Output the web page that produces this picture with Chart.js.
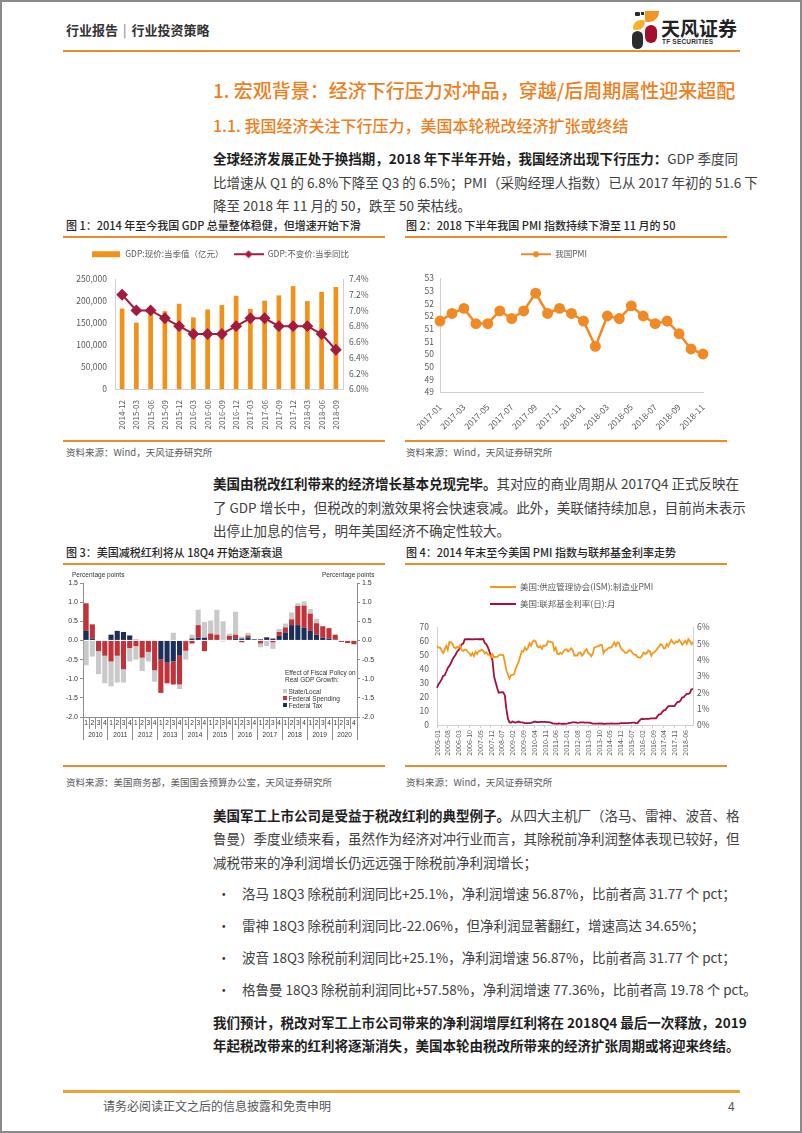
<!DOCTYPE html>
<html><head><meta charset="utf-8">
<script src="https://cdn.jsdelivr.net/npm/chart.js@4.4.1/dist/chart.umd.min.js"></script>
<style>
html,body{margin:0;padding:0;background:#fff;}
#page{position:relative;width:802px;height:1133px;overflow:hidden;font-family:"Noto Sans CJK SC","Noto Sans",sans-serif;color:#3a3a3a;}
#frame{position:absolute;left:0;top:0;width:802px;height:1133px;box-sizing:border-box;border:2px solid #8a8a8a;pointer-events:none;}
.abs{position:absolute;white-space:nowrap;}
.hl{position:absolute;background:#EC8A32;}
.ln{position:absolute;left:213px;width:525px;height:20px;line-height:20px;font-size:13.5px;white-space:nowrap;text-align:justify;text-align-last:justify;color:#404040;}
.ln.last{text-align:left;text-align-last:left;}
.ln b{font-weight:700;color:#1e1e1e;}
.bul{position:absolute;left:217px;font-size:13.5px;line-height:20px;height:20px;white-space:nowrap;color:#404040;}
.bul span{position:absolute;left:25px;}
.ft{position:absolute;font-size:11px;line-height:16px;color:#262626;font-weight:500;white-space:nowrap;}
.src{position:absolute;font-size:9.5px;line-height:14px;color:#5a5a5a;white-space:nowrap;}
.cw{position:absolute;}
.c3t{position:absolute;font-family:"Liberation Sans",Arial,sans-serif;font-size:6.5px;line-height:8px;color:#333;white-space:nowrap;}
.c3t i{display:inline-block;width:4px;height:4px;margin-right:1.5px;vertical-align:middle;position:relative;top:-1px;}
.lg4{position:absolute;font-size:8.5px;line-height:12px;color:#595959;white-space:nowrap;}
.lg4 i{display:inline-block;width:26px;height:2px;margin-right:4px;vertical-align:middle;position:relative;top:-1px;}
</style></head>
<body>
<div id="page">
<div id="frame"></div>

<!-- header -->
<div class="abs" style="left:66px;top:20px;font-size:13px;line-height:20px;font-weight:700;color:#333;">行业报告<span style="font-weight:400;color:#777;margin:0 5px;">|</span>行业投资策略</div>
<div class="abs" style="left:635px;top:12px;width:5px;height:4px;background:#2a2a2a;border-radius:1px;"></div>
<div class="abs" style="left:641px;top:12px;width:3px;height:3px;background:#2a2a2a;"></div>
<div class="abs" style="left:645px;top:11px;width:14px;height:11px;background:#F29422;border-radius:0 0 10px 2px;"></div>
<div class="abs" style="left:633px;top:20px;width:12px;height:10px;background:#F7B32B;border-radius:8px 2px 8px 2px;"></div>
<div class="abs" style="left:632px;top:31px;width:11px;height:18px;background:#2b2b2b;border-radius:6px;"></div>
<div class="abs" style="left:645px;top:25px;width:12px;height:18px;background:#A50D2C;border-radius:6px;"></div>
<div class="abs" style="left:661px;top:16px;font-size:19px;line-height:24px;font-weight:700;color:#222;">天风证券</div>
<div class="abs" style="left:662px;top:38px;font-family:'Liberation Sans',Arial,sans-serif;font-size:6.5px;line-height:8px;font-weight:700;color:#333;letter-spacing:0.2px;">TF SECURITIES</div>
<div class="hl" style="left:63px;top:50px;width:677px;height:2px;"></div>

<!-- headings -->
<div class="abs" style="left:213px;top:77px;font-size:19px;line-height:26px;color:#EE7F1E;font-weight:500;">1. 宏观背景：经济下行压力对冲品，穿越/后周期属性迎来超配</div>
<div class="abs" style="left:213px;top:113px;font-size:16px;line-height:24px;color:#EE7F1E;font-weight:500;">1.1. 我国经济关注下行压力，美国本轮税改经济扩张或终结</div>

<div class="ln" style="top:148px;"><b>全球经济发展正处于换挡期，2018 年下半年开始，我国经济出现下行压力：</b>GDP 季度同</div>
<div class="ln" style="top:172px;">比增速从 Q1 的 6.8%下降至 Q3 的 6.5%；PMI（采购经理人指数）已从 2017 年初的 51.6 下</div>
<div class="ln last" style="top:195px;">降至 2018 年 11 月的 50，跌至 50 荣枯线。</div>

<!-- figure 1/2 titles -->
<div class="ft" style="left:66px;top:217px;">图 1：2014 年至今我国 GDP 总量整体稳健，但增速开始下滑</div>
<div class="ft" style="left:406px;top:217px;">图 2：2018 下半年我国 PMI 指数持续下滑至 11 月的 50</div>
<div class="hl" style="left:63px;top:236px;width:322px;height:1.5px;"></div>
<div class="hl" style="left:405px;top:236px;width:322px;height:1.5px;"></div>
<div class="cw" style="left:63px;top:240px;width:322px;height:198px;"><canvas id="c1"></canvas></div>
<div class="cw" style="left:405px;top:240px;width:322px;height:198px;"><canvas id="c2"></canvas></div>
<div class="hl" style="left:63px;top:440px;width:322px;height:1.5px;"></div>
<div class="hl" style="left:405px;top:440px;width:322px;height:1.5px;"></div>
<div class="src" style="left:66px;top:445px;">资料来源：Wind，天风证券研究所</div>
<div class="src" style="left:406px;top:445px;">资料来源：Wind，天风证券研究所</div>

<div class="ln" style="top:473px;"><b>美国由税改红利带来的经济增长基本兑现完毕。</b>其对应的商业周期从 2017Q4 正式反映在</div>
<div class="ln" style="top:497px;">了 GDP 增长中，但税改的刺激效果将会快速衰减。此外，美联储持续加息，目前尚未表示</div>
<div class="ln last" style="top:520px;">出停止加息的信号，明年美国经济不确定性较大。</div>

<!-- figure 3/4 titles -->
<div class="ft" style="left:66px;top:544px;">图 3：美国减税红利将从 18Q4 开始逐渐衰退</div>
<div class="ft" style="left:406px;top:544px;">图 4：2014 年末至今美国 PMI 指数与联邦基金利率走势</div>
<div class="hl" style="left:63px;top:563px;width:322px;height:1.5px;"></div>
<div class="hl" style="left:405px;top:563px;width:322px;height:1.5px;"></div>
<div class="cw" style="left:63px;top:565px;width:322px;height:197px;"><canvas id="c3"></canvas></div>
<div class="cw" style="left:405px;top:565px;width:322px;height:197px;"><canvas id="c4"></canvas></div>
<div class="hl" style="left:63px;top:765px;width:322px;height:1.5px;"></div>
<div class="hl" style="left:405px;top:765px;width:322px;height:1.5px;"></div>
<div class="src" style="left:66px;top:775px;">资料来源：美国商务部，美国国会预算办公室，天风证券研究所</div>
<div class="src" style="left:406px;top:775px;">资料来源：Wind，天风证券研究所</div>

<!-- chart 3 overlays -->
<div class="c3t" style="left:72px;top:571px;">Percentage points</div>
<div class="c3t" style="left:322px;top:571px;">Percentage points</div>
<div class="c3t" style="left:285px;top:669px;">Effect of Fiscal Policy on</div>
<div class="c3t" style="left:285px;top:676px;">Real GDP Growth:</div>
<div class="c3t" style="left:283px;top:688px;"><i style="background:#C9C9C9"></i>State/Local</div>
<div class="c3t" style="left:283px;top:695px;"><i style="background:#C0333A"></i>Federal Spending</div>
<div class="c3t" style="left:283px;top:702px;"><i style="background:#1B2F5A"></i>Federal Tax</div>

<!-- chart 4 legend -->
<div class="lg4" style="left:490px;top:580px;"><i style="background:#F39A1E"></i>美国:供应管理协会(ISM):制造业PMI</div>
<div class="lg4" style="left:490px;top:597px;"><i style="background:#A50F3A"></i>美国:联邦基金利率(日):月</div>

<div class="ln" style="top:805px;"><b>美国军工上市公司是受益于税改红利的典型例子。</b>从四大主机厂（洛马、雷神、波音、格</div>
<div class="ln" style="top:828px;">鲁曼）季度业绩来看，虽然作为经济对冲行业而言，其除税前净利润整体表现已较好，但</div>
<div class="ln last" style="top:852px;">减税带来的净利润增长仍远远强于除税前净利润增长；</div>

<div class="bul" style="top:883px;">•<span>洛马 18Q3 除税前利润同比+25.1%，净利润增速 56.87%，比前者高 31.77 个 pct；</span></div>
<div class="bul" style="top:915px;">•<span>雷神 18Q3 除税前利润同比-22.06%，但净利润显著翻红，增速高达 34.65%；</span></div>
<div class="bul" style="top:947px;">•<span>波音 18Q3 除税前利润同比+25.1%，净利润增速 56.87%，比前者高 31.77 个 pct；</span></div>
<div class="bul" style="top:979px;">•<span>格鲁曼 18Q3 除税前利润同比+57.58%，净利润增速 77.36%，比前者高 19.78 个 pct。</span></div>

<div class="ln" style="top:1012px;"><b>我们预计，税改对军工上市公司带来的净利润增厚红利将在 2018Q4 最后一次释放，2019</b></div>
<div class="ln" style="top:1035px;"><b>年起税改带来的红利将逐渐消失，美国本轮由税改所带来的经济扩张周期或将迎来终结。</b></div>

<!-- footer -->
<div class="abs" style="left:63px;top:1090px;width:677px;height:3px;background:#EBA23A;"></div>
<div class="abs" style="left:103px;top:1098px;font-size:12px;line-height:16px;color:#555;">请务必阅读正文之后的信息披露和免责申明</div>
<div class="abs" style="left:728px;top:1098px;font-size:12px;line-height:16px;color:#555;">4</div>
</div>

<script>
// ---------- Chart 1 data ----------
const gdpQuarters = ['2014-12','2015-03','2015-06','2015-09','2015-12','2016-03','2016-06','2016-09','2016-12','2017-03','2017-06','2017-09','2017-12','2018-03','2018-06','2018-09'];
const gdpNominal = [182000,150000,171000,176000,193000,162000,180000,190000,211000,181000,200000,212000,233000,199000,220000,231000];
const gdpGrowth = [7.2,7.0,7.0,6.9,6.8,6.7,6.7,6.7,6.8,6.9,6.9,6.8,6.8,6.8,6.7,6.5];

// ---------- Chart 2 data ----------
const pmiMonths = ['2017-01','2017-02','2017-03','2017-04','2017-05','2017-06','2017-07','2017-08','2017-09','2017-10','2017-11','2017-12','2018-01','2018-02','2018-03','2018-04','2018-05','2018-06','2018-07','2018-08','2018-09','2018-10','2018-11'];
const chinaPMI = [51.3,51.6,51.8,51.2,51.2,51.7,51.4,51.7,52.4,51.6,51.8,51.6,51.3,50.3,51.5,51.4,51.9,51.5,51.2,51.3,50.8,50.2,50.0];

// ---------- Chart 3 data ----------
const fiscalYears = ['2010','2011','2012','2013','2014','2015','2016','2017','2018','2019','2020'];
const quarterNames = ['1','2','3','4'];
const federalTax = [0.25,0.05,0,-0.02, 0.15,0.25,0.22,0.13, 0.02,0,0,0, -0.5,-0.58,-0.55,-0.4, -0.02,0.05,0.07,0.07, 0,0,0,0.02, 0.05,0.05,0.08,0.03, 0.03,0.07,0.05,0.12, 0.21,0.4,0.4,0.33, 0.25,0.15,0.07,0.05, 0.02,0,0,0];
const federalSpending = [0.72,0.37,-0.28,-0.38, -0.55,-0.4,-0.75,-0.2, -0.15,-0.45,-0.3,-0.78, -0.87,-0.54,-0.6,-0.75, -0.25,-0.08,0.33,-0.28, 0.18,0.15,-0.02,0.1, 0.1,-0.05,0.05,0, -0.08,0.02,-0.05,0.1, 0.13,0.15,0.5,0.58, 0.45,0.3,0.3,0.27, 0.13,-0.04,-0.07,-0.1];
const stateLocal = [-0.65,-0.42,-0.6,-0.72, -0.65,-0.7,-0.35,-0.35, -0.35,-0.35,-0.25,-0.3, 0,0,0.2,-0.12, -0.23,0.1,0.4,0.41, 0.34,0.65,0.5,0.06, 0.6,0.05,0.07,0, -0.1,-0.15,-0.17,0.08, 0.1,0.18,0.07,0.11, 0.12,0.12,0.01,0, 0,0,0,0];

// ---------- Chart 4 data (2005-01 .. 2018-11, monthly) ----------
const usYears = ['2005','2006','2007','2008','2009','2010','2011','2012','2013','2014','2015','2016','2017','2018'];
const monthNames = ['01','02','03','04','05','06','07','08','09','10','11','12'];
const ismPMI = [
56.4,55.3,55.2,53.3,51.4,53.8,56.6,53.6,59.4,59.1,58.1,55.6,
54.8,55.8,55.2,56.9,53.7,52.8,54.0,53.7,52.2,51.4,49.5,51.4,
49.3,52.3,50.7,52.6,52.9,53.8,52.9,51.1,52.0,50.4,50.0,48.4,
50.7,48.3,48.6,48.6,49.6,50.2,50.0,49.9,44.8,38.9,36.2,33.1,
35.6,35.8,36.3,40.1,42.8,45.3,49.1,52.8,52.4,55.2,53.7,54.9,
58.4,56.5,59.6,60.4,59.7,56.2,55.5,56.3,54.4,56.9,56.6,57.0,
59.8,59.6,59.2,58.9,53.5,55.3,50.9,50.6,51.6,50.8,52.7,53.9,
54.1,52.4,53.4,54.8,53.5,49.7,49.8,49.6,51.5,51.7,49.5,50.7,
53.1,54.2,51.3,50.7,49.0,50.9,55.4,55.7,56.2,56.4,57.3,57.0,
51.3,53.2,53.7,54.9,55.4,55.3,57.1,59.0,56.6,59.0,58.7,55.5,
53.5,52.9,51.5,51.5,52.8,53.5,52.7,51.1,50.2,50.1,48.6,48.2,
48.2,49.5,51.8,50.8,51.3,53.2,52.6,49.4,51.5,51.9,53.2,54.7,
56.0,57.7,57.2,54.8,54.9,57.8,56.3,58.8,60.8,58.7,58.2,59.7,
59.1,60.8,59.3,57.3,58.7,60.2,58.1,61.3,59.8,57.7,59.3];
const fedFunds = [
2.28,2.50,2.63,2.79,3.00,3.04,3.26,3.50,3.62,3.78,4.00,4.16,
4.29,4.49,4.59,4.79,4.94,4.99,5.24,5.25,5.25,5.25,5.25,5.24,
5.25,5.26,5.26,5.25,5.25,5.25,5.26,5.02,4.94,4.76,4.49,4.24,
3.94,2.98,2.61,2.28,1.98,2.00,2.01,2.00,1.81,0.97,0.39,0.16,
0.15,0.22,0.18,0.15,0.18,0.21,0.16,0.16,0.15,0.12,0.12,0.12,
0.11,0.13,0.16,0.20,0.20,0.18,0.18,0.19,0.19,0.19,0.19,0.18,
0.17,0.16,0.14,0.10,0.09,0.09,0.07,0.10,0.08,0.07,0.08,0.07,
0.08,0.10,0.13,0.14,0.16,0.16,0.16,0.13,0.14,0.16,0.16,0.16,
0.14,0.15,0.14,0.15,0.11,0.09,0.09,0.08,0.08,0.09,0.08,0.09,
0.07,0.07,0.08,0.09,0.09,0.10,0.09,0.09,0.09,0.09,0.09,0.12,
0.11,0.11,0.11,0.12,0.12,0.13,0.13,0.14,0.14,0.12,0.12,0.24,
0.34,0.38,0.36,0.37,0.37,0.38,0.39,0.40,0.40,0.40,0.41,0.54,
0.65,0.66,0.79,0.90,0.91,1.04,1.15,1.16,1.15,1.15,1.16,1.30,
1.41,1.42,1.51,1.69,1.70,1.82,1.91,1.91,1.95,2.19,2.20];

// ---------- build category labels ----------
const quarterLabels = [];
fiscalYears.forEach(() => quarterNames.forEach(q => quarterLabels.push(q)));
const usMonths = [];
usYears.forEach(y => monthNames.forEach(m => { if (usMonths.length < ismPMI.length) usMonths.push(y + '-' + m); }));

// ---------- common ----------
const CJK = '"Noto Sans CJK SC","Noto Sans",sans-serif';
const AR = '"Liberation Sans",Arial,sans-serif';
Chart.defaults.font.family = CJK;
Chart.defaults.color = '#595959';
Chart.defaults.animation = false;
Chart.defaults.devicePixelRatio = 1;
Chart.defaults.plugins.tooltip.enabled = false;

function legendIcon(kind, color) {
  const c = document.createElement('canvas');
  c.width = 30; c.height = 10;
  const g = c.getContext('2d');
  if (kind === 'bar') { g.fillStyle = color; g.fillRect(1, 2, 28, 6); }
  else {
    g.strokeStyle = color; g.lineWidth = 2;
    g.beginPath(); g.moveTo(0, 5); g.lineTo(30, 5); g.stroke();
    g.fillStyle = color; g.beginPath();
    if (kind === 'diamond') { g.moveTo(15, 1); g.lineTo(19, 5); g.lineTo(15, 9); g.lineTo(11, 5); g.closePath(); }
    else { g.arc(15, 5, 3, 0, Math.PI * 2); }
    g.fill();
  }
  return c;
}
function legendGap(extra) {
  return { id: 'legendGap', beforeInit(chart) {
    const lg = chart.legend; if (!lg) return;
    const f = lg.fit;
    lg.fit = function () { f.call(this); this.height += extra; };
  } };
}
const fixW = w => (s => { s.width = w; });
const fixH = h => (s => { s.height = h; });
const axisGray = '#D0D0D0';

// ---------- Chart 1 ----------
const orange1 = '#F0921A', red1 = '#A31C40';
const icons1 = [legendIcon('bar', orange1), legendIcon('diamond', red1)];
new Chart(document.getElementById('c1'), {
  data: {
    labels: gdpQuarters,
    datasets: [
      { type: 'bar', label: 'GDP:现价:当季值（亿元）', data: gdpNominal, backgroundColor: orange1, yAxisID: 'y', barThickness: 4, order: 2 },
      { type: 'line', label: 'GDP:不变价:当季同比', data: gdpGrowth, borderColor: red1, backgroundColor: red1, borderWidth: 2,
        pointStyle: 'rectRot', pointRadius: 4.5, pointBackgroundColor: red1, pointBorderColor: red1, yAxisID: 'y2', order: 1 }
    ]
  },
  options: {
    responsive: true, maintainAspectRatio: false,
    layout: { padding: { top: 0, right: 8, left: 0, bottom: 0 } },
    plugins: {
      legend: { position: 'top', labels: { usePointStyle: true, pointStyleWidth: 30, padding: 10, font: { size: 8.5 }, color: '#595959',
        sort: (a, b) => a.datasetIndex - b.datasetIndex,
        generateLabels: ch => { const it = Chart.defaults.plugins.legend.labels.generateLabels(ch); it.forEach(x => x.pointStyle = icons1[x.datasetIndex]); return it; } } }
    },
    scales: {
      x: { offset: true, grid: { display: false }, border: { color: axisGray },
        ticks: { autoSkip: false, minRotation: 90, maxRotation: 90, font: { size: 8 }, color: '#595959', padding: 3 }, afterFit: fixH(49) },
      y: { position: 'left', min: 0, max: 250000, grid: { display: false, drawTicks: false }, border: { color: axisGray },
        ticks: { autoSkip: false, stepSize: 50000, padding: 8, font: { size: 8.5 }, color: '#595959', callback: v => v.toLocaleString('en-US') }, afterFit: fixW(52) },
      y2: { position: 'right', min: 6.0, max: 7.4, grid: { display: false, drawTicks: false }, border: { color: axisGray },
        ticks: { autoSkip: false, stepSize: 0.2, padding: 6, font: { size: 8.5 }, color: '#595959', callback: v => v.toFixed(1) + '%' }, afterFit: fixW(34) }
    }
  },
  plugins: [legendGap(10.5)]
});

// ---------- Chart 2 ----------
const orange2 = '#F08A24';
const icons2 = [legendIcon('circle', orange2)];
new Chart(document.getElementById('c2'), {
  type: 'line',
  data: { labels: pmiMonths, datasets: [{ label: '我国PMI', data: chinaPMI, borderColor: orange2, backgroundColor: orange2, borderWidth: 2.5,
    pointRadius: 4.2, pointBackgroundColor: orange2, pointBorderColor: orange2 }] },
  options: {
    responsive: true, maintainAspectRatio: false,
    layout: { padding: { top: 0, right: 24, left: 0, bottom: 0 } },
    plugins: {
      legend: { position: 'top', labels: { usePointStyle: true, pointStyleWidth: 30, padding: 10, font: { size: 8.5 }, color: '#595959',
        generateLabels: ch => { const it = Chart.defaults.plugins.legend.labels.generateLabels(ch); it.forEach(x => x.pointStyle = icons2[0]); return it; } } }
    },
    scales: {
      x: { offset: false, grid: { display: false }, border: { color: axisGray },
        ticks: { autoSkip: false, minRotation: 45, maxRotation: 45, font: { size: 8.5 }, color: '#595959', padding: 2,
          callback: (v, i) => (i % 2 === 0 ? pmiMonths[i] : null) }, afterFit: fixH(46) },
      y: { min: 48.5, max: 53, grid: { display: false, drawTicks: false }, border: { color: axisGray },
        ticks: { autoSkip: false, stepSize: 0.5, padding: 6, font: { size: 8.5 }, color: '#595959', callback: v => String(Math.round(v)) }, afterFit: fixW(35) }
    }
  },
  plugins: [legendGap(9.5)]
});

// ---------- Chart 3 ----------
const tickGray = '#8c8c8c';
new Chart(document.getElementById('c3'), {
  type: 'bar',
  data: { labels: quarterLabels, datasets: [
    { label: 'Federal Tax', data: federalTax, backgroundColor: '#1B2F5A' },
    { label: 'Federal Spending', data: federalSpending, backgroundColor: '#C0333A' },
    { label: 'State/Local', data: stateLocal, backgroundColor: '#C9C9C9' }
  ] },
  options: {
    responsive: true, maintainAspectRatio: false,
    datasets: { bar: { categoryPercentage: 1, barPercentage: 0.82 } },
    layout: { padding: { top: 18, right: 8, left: 0, bottom: 21 } },
    plugins: { legend: { display: false } },
    scales: {
      x: { stacked: true, offset: true, grid: { offset: true, drawOnChartArea: false, tickLength: 12, color: tickGray }, border: { color: tickGray },
        ticks: { autoSkip: false, maxRotation: 0, padding: -10, font: { family: AR, size: 6.5 }, color: '#333' }, afterFit: fixH(12) },
      x2: { type: 'category', labels: fiscalYears, position: 'bottom', offset: true,
        grid: { offset: true, drawOnChartArea: false, tickLength: 11, color: tickGray }, border: { display: false },
        ticks: { autoSkip: false, maxRotation: 0, padding: -9, font: { family: AR, size: 6.5 }, color: '#333' }, afterFit: fixH(12) },
      y: { stacked: true, position: 'left', min: -2, max: 1.5, grid: { drawOnChartArea: false, tickLength: 3, color: tickGray }, border: { color: tickGray },
        ticks: { autoSkip: false, stepSize: 0.5, padding: 2, font: { family: AR, size: 7 }, color: '#333', callback: v => v.toFixed(1) }, afterFit: fixW(20) },
      y2: { position: 'right', min: -2, max: 1.5, grid: { drawOnChartArea: false, tickLength: 3, color: tickGray }, border: { color: tickGray },
        ticks: { autoSkip: false, stepSize: 0.5, padding: 2, font: { family: AR, size: 7 }, color: '#333', callback: v => v.toFixed(1) }, afterFit: fixW(20) }
    }
  }
});

// ---------- Chart 4 ----------
new Chart(document.getElementById('c4'), {
  type: 'line',
  data: { labels: usMonths, datasets: [
    { label: '美国:供应管理协会(ISM):制造业PMI', data: ismPMI, borderColor: '#F39A1E', borderWidth: 1.8, pointRadius: 0, yAxisID: 'y' },
    { label: '美国:联邦基金利率(日):月', data: fedFunds, borderColor: '#A50F3A', borderWidth: 1.8, pointRadius: 0, yAxisID: 'y2' }
  ] },
  options: {
    responsive: true, maintainAspectRatio: false,
    layout: { padding: { top: 62, right: 8, left: 0, bottom: 4 } },
    plugins: { legend: { display: false } },
    scales: {
      x: { offset: false, grid: { drawOnChartArea: false, tickLength: 3, color: axisGray }, border: { color: axisGray },
        ticks: { autoSkip: false, minRotation: 90, maxRotation: 90, padding: 2, font: { size: 7 }, color: '#595959',
          callback: (v, i) => (i % 7 === 0 ? usMonths[i] : null) }, afterFit: fixH(33) },
      y: { position: 'left', min: 0, max: 70, grid: { display: false, drawTicks: false }, border: { color: axisGray },
        ticks: { autoSkip: false, stepSize: 10, padding: 8, font: { size: 8.5 }, color: '#595959' }, afterFit: fixW(32) },
      y2: { position: 'right', min: 0, max: 6, grid: { display: false, drawTicks: false }, border: { color: axisGray },
        ticks: { autoSkip: false, stepSize: 1, padding: 4, font: { size: 8.5 }, color: '#595959', callback: v => v + '%' }, afterFit: fixW(26) }
    }
  }
});
</script>
</body></html>
